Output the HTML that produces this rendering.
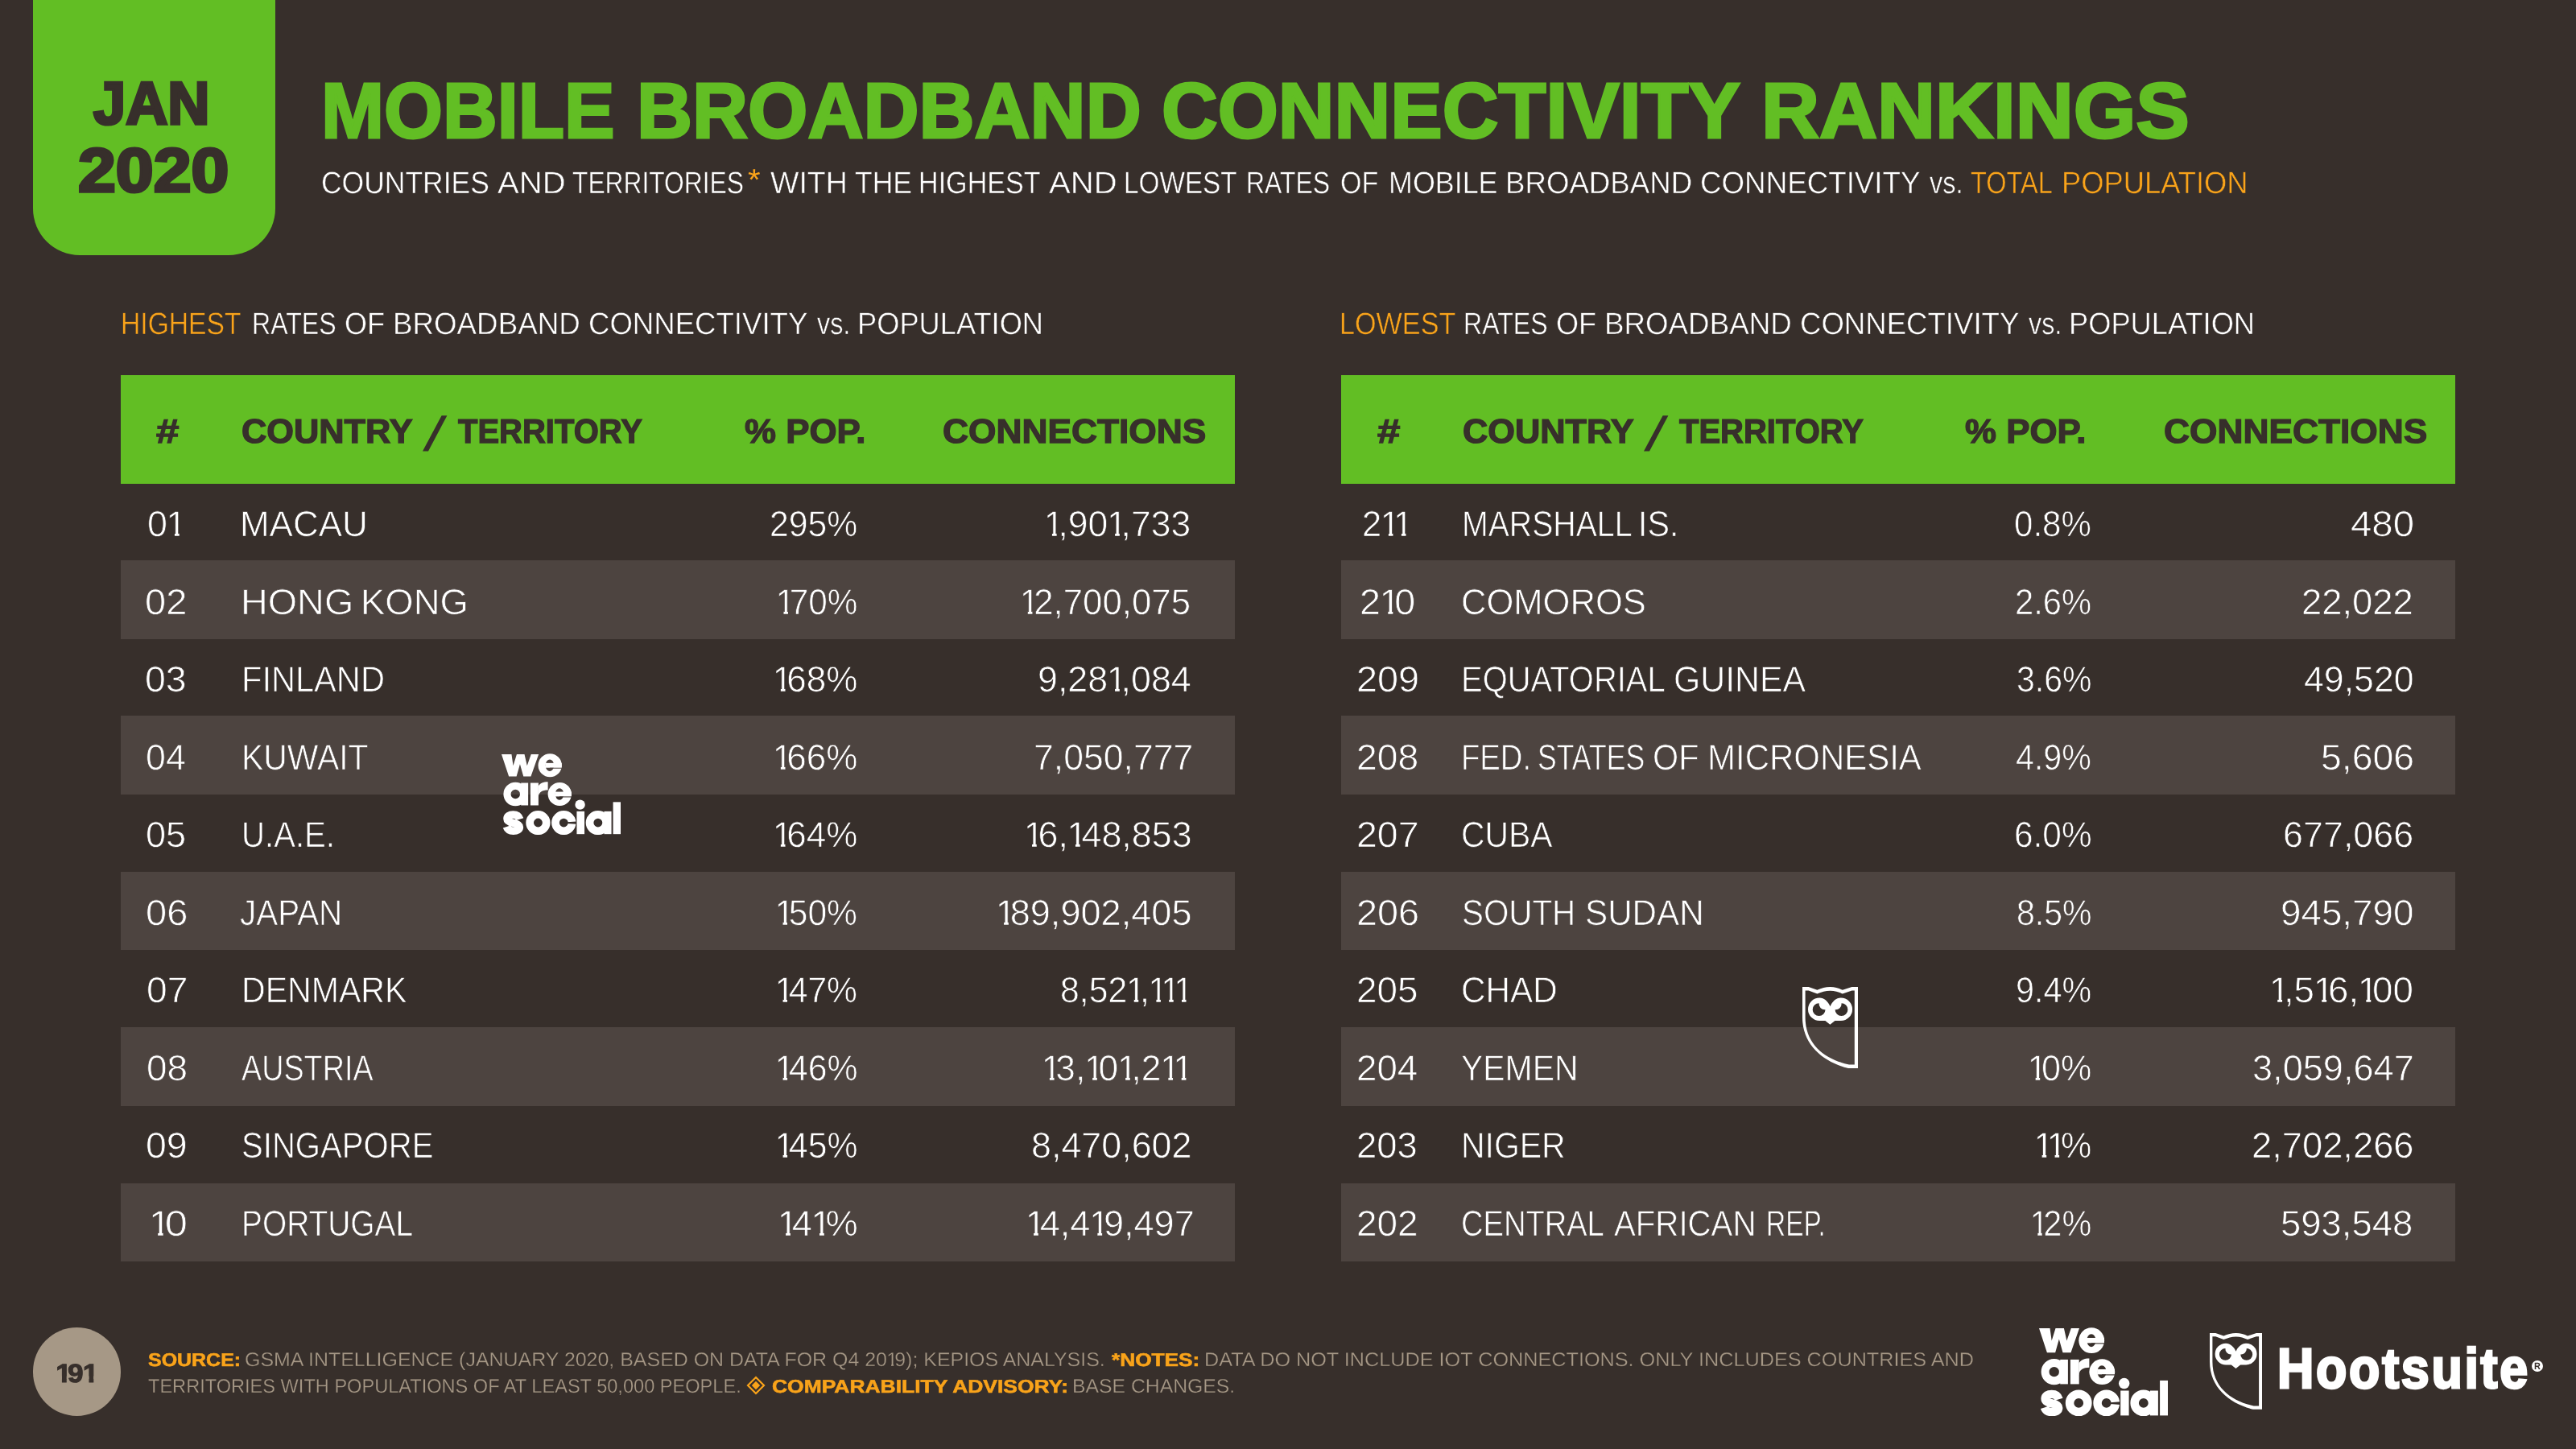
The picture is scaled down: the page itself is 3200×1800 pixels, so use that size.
<!DOCTYPE html>
<html><head><meta charset="utf-8"><title>Mobile Broadband Connectivity Rankings</title>
<style>
html,body{margin:0;padding:0}
body{width:3200px;height:1800px;background:#372F2B;position:relative;overflow:hidden;font-family:"Liberation Sans",sans-serif}
.t{position:absolute;white-space:pre;line-height:1em;transform-origin:0 0;display:block;text-rendering:geometricPrecision}.t i{font-style:normal;display:inline-block;margin:0 -0.157em 0 -0.03em;clip-path:polygon(0 0,100% 0,100% 60%,64.5% 60%,64.5% 100%,41.5% 100%,41.5% 60%,0 60%)}.t i.b{margin:0 -0.136em 0 -0.023em;clip-path:polygon(0 0,100% 0,100% 60%,69% 60%,69% 100%,39.5% 100%,39.5% 60%,0 60%)}
.txt{position:absolute;left:0;top:0;width:3200px;height:1800px;will-change:transform}
.badge{position:absolute;left:41px;top:-60px;width:301px;height:377px;background:#62BE24;border-radius:58px}
.hd{position:absolute;top:466px;width:1384px;height:135px;background:#62BE24}
.sh{position:absolute;width:1384px;height:97.5px;background:#4D4440}
.pg{position:absolute;left:40.7px;top:1649.2px;width:109.7px;height:109.7px;border-radius:50%;background:#A69886}
</style></head><body>
<div class="badge"></div>
<div class="hd" style="left:150px"></div>
<div class="sh" style="left:150px;top:696.0px"></div>
<div class="sh" style="left:150px;top:889.4px"></div>
<div class="sh" style="left:150px;top:1082.8px"></div>
<div class="sh" style="left:150px;top:1276.2px"></div>
<div class="sh" style="left:150px;top:1469.6px"></div>
<div class="hd" style="left:1666px"></div>
<div class="sh" style="left:1666px;top:696.0px"></div>
<div class="sh" style="left:1666px;top:889.4px"></div>
<div class="sh" style="left:1666px;top:1082.8px"></div>
<div class="sh" style="left:1666px;top:1276.2px"></div>
<div class="sh" style="left:1666px;top:1469.6px"></div>
<div class="pg"></div>
<svg style="position:absolute;left:520.0px;top:510px" width="40" height="56" viewBox="0 0 40 56"><path d="M28.6,6.2H35.4L12,50.4H5Z" fill="#372F2B"/></svg>
<svg style="position:absolute;left:2036.8px;top:510px" width="40" height="56" viewBox="0 0 40 56"><path d="M28.6,6.2H35.4L12,50.4H5Z" fill="#372F2B"/></svg>
<svg style="position:absolute;left:623.10px;top:935.70px" width="148.10" height="101.00" viewBox="0 0 160.4 110.3" preserveAspectRatio="none"><mask id="wm1" maskUnits="userSpaceOnUse" x="0" y="0" width="160.4" height="110.3"><path fill="#fff" d="M0,1.1H13.5L15.7,16.6L20.5,1.1H30.9L34.4,16.6L39.8,1.1H50L39.5,31.2H29.5L24.85,14.6L20.15,31.2H9.9Z"/><circle cx="65.2" cy="16.15" r="15.9" fill="#fff"/><ellipse cx="64.9" cy="16.15" rx="5.6" ry="8.0" fill="#000"/><rect x="59.0" y="12.95" width="21.9" height="6.4" fill="#fff"/><rect x="64.9" y="19.349999999999998" width="16.9" height="1.1" fill="#000"/><path fill="#fff" fill-rule="evenodd" d="M2.599999999999998,55.15a16.1,16.1 0 1 0 32.2,0a16.1,16.1 0 1 0 -32.2,0Z M12.5,55.15a6.2,6.2 0 1 0 12.4,0a6.2,6.2 0 1 0 -12.4,0Z"/><rect x="26.2" y="39.9" width="9.7" height="30.5" fill="#fff"/><rect x="38.9" y="39.9" width="10.8" height="30.5" fill="#fff"/><path fill="#fff" d="M49.5,44.5C52,40.5 56,38.6 62.4,38.6V49.7C55,49.7 49.7,52.5 49.7,59L49.5,59Z"/><circle cx="78.3" cy="55.15" r="15.9" fill="#fff"/><ellipse cx="78.0" cy="55.15" rx="5.6" ry="8.0" fill="#000"/><rect x="72.1" y="51.949999999999996" width="21.9" height="6.4" fill="#fff"/><rect x="78.0" y="58.35" width="16.9" height="1.1" fill="#000"/><circle cx="105.7" cy="69.5" r="6.7" fill="#fff"/><path fill="none" stroke="#fff" stroke-width="10.4" d="M24.6,89.2C23.2,84.6 19.6,82.9 15.6,82.9C10.6,82.9 7.6,85.4 7.6,88.4C7.6,92.2 11,93.3 16,94.3C21,95.3 24.2,96.6 24.2,100C24.2,103.2 21,105.1 16,105.1C11.6,105.1 8.2,103.4 6.8,99.4"/><path fill="#fff" fill-rule="evenodd" d="M32.800000000000004,93.95a16.4,16.4 0 1 0 32.8,0a16.4,16.4 0 1 0 -32.8,0Z M43.300000000000004,93.95a5.9,5.9 0 1 0 11.8,0a5.9,5.9 0 1 0 -11.8,0Z"/><path fill="#fff" fill-rule="evenodd" d="M67.30000000000001,93.95a16.4,16.4 0 1 0 32.8,0a16.4,16.4 0 1 0 -32.8,0Z M77.8,93.95a5.9,5.9 0 1 0 11.8,0a5.9,5.9 0 1 0 -11.8,0Z"/><path fill="#000" d="M88,93.2L101,92.2V95.9L88,94.9Z"/><rect x="101.2" y="78.5" width="10.4" height="30.9" fill="#fff"/><path fill="#fff" fill-rule="evenodd" d="M113.4,93.95a16.4,16.4 0 1 0 32.8,0a16.4,16.4 0 1 0 -32.8,0Z M123.9,93.95a5.9,5.9 0 1 0 11.8,0a5.9,5.9 0 1 0 -11.8,0Z"/><rect x="138" y="78.5" width="9.9" height="30.9" fill="#fff"/><rect x="150.1" y="65.9" width="10.3" height="43.5" fill="#fff"/></mask><rect x="0" y="0" width="160.4" height="110.3" fill="#fff" mask="url(#wm1)"/></svg>
<svg style="position:absolute;left:2532.70px;top:1648.97px" width="160.40" height="110.30" viewBox="0 0 160.4 110.3" preserveAspectRatio="none"><mask id="wm2" maskUnits="userSpaceOnUse" x="0" y="0" width="160.4" height="110.3"><path fill="#fff" d="M0,1.1H13.5L15.7,16.6L20.5,1.1H30.9L34.4,16.6L39.8,1.1H50L39.5,31.2H29.5L24.85,14.6L20.15,31.2H9.9Z"/><circle cx="65.2" cy="16.15" r="15.9" fill="#fff"/><ellipse cx="64.9" cy="16.15" rx="5.6" ry="8.0" fill="#000"/><rect x="59.0" y="12.95" width="21.9" height="6.4" fill="#fff"/><rect x="64.9" y="19.349999999999998" width="16.9" height="1.1" fill="#000"/><path fill="#fff" fill-rule="evenodd" d="M2.599999999999998,55.15a16.1,16.1 0 1 0 32.2,0a16.1,16.1 0 1 0 -32.2,0Z M12.5,55.15a6.2,6.2 0 1 0 12.4,0a6.2,6.2 0 1 0 -12.4,0Z"/><rect x="26.2" y="39.9" width="9.7" height="30.5" fill="#fff"/><rect x="38.9" y="39.9" width="10.8" height="30.5" fill="#fff"/><path fill="#fff" d="M49.5,44.5C52,40.5 56,38.6 62.4,38.6V49.7C55,49.7 49.7,52.5 49.7,59L49.5,59Z"/><circle cx="78.3" cy="55.15" r="15.9" fill="#fff"/><ellipse cx="78.0" cy="55.15" rx="5.6" ry="8.0" fill="#000"/><rect x="72.1" y="51.949999999999996" width="21.9" height="6.4" fill="#fff"/><rect x="78.0" y="58.35" width="16.9" height="1.1" fill="#000"/><circle cx="105.7" cy="69.5" r="6.7" fill="#fff"/><path fill="none" stroke="#fff" stroke-width="10.4" d="M24.6,89.2C23.2,84.6 19.6,82.9 15.6,82.9C10.6,82.9 7.6,85.4 7.6,88.4C7.6,92.2 11,93.3 16,94.3C21,95.3 24.2,96.6 24.2,100C24.2,103.2 21,105.1 16,105.1C11.6,105.1 8.2,103.4 6.8,99.4"/><path fill="#fff" fill-rule="evenodd" d="M32.800000000000004,93.95a16.4,16.4 0 1 0 32.8,0a16.4,16.4 0 1 0 -32.8,0Z M43.300000000000004,93.95a5.9,5.9 0 1 0 11.8,0a5.9,5.9 0 1 0 -11.8,0Z"/><path fill="#fff" fill-rule="evenodd" d="M67.30000000000001,93.95a16.4,16.4 0 1 0 32.8,0a16.4,16.4 0 1 0 -32.8,0Z M77.8,93.95a5.9,5.9 0 1 0 11.8,0a5.9,5.9 0 1 0 -11.8,0Z"/><path fill="#000" d="M88,93.2L101,92.2V95.9L88,94.9Z"/><rect x="101.2" y="78.5" width="10.4" height="30.9" fill="#fff"/><path fill="#fff" fill-rule="evenodd" d="M113.4,93.95a16.4,16.4 0 1 0 32.8,0a16.4,16.4 0 1 0 -32.8,0Z M123.9,93.95a5.9,5.9 0 1 0 11.8,0a5.9,5.9 0 1 0 -11.8,0Z"/><rect x="138" y="78.5" width="9.9" height="30.9" fill="#fff"/><rect x="150.1" y="65.9" width="10.3" height="43.5" fill="#fff"/></mask><rect x="0" y="0" width="160.4" height="110.3" fill="#fff" mask="url(#wm2)"/></svg>
<svg style="position:absolute;left:2238.90px;top:1225.80px" width="69.35" height="101.00" viewBox="0 0 69.35 101.4" preserveAspectRatio="none">
<path fill="#fff" fill-rule="evenodd" d="M0,0H7.7L18.4,3.85C24,1.4 28.5,0 34.6,0S45.2,1.4 49.9,3.85L61.5,0H69.35V101.4H57C27,94 0,73 0,38Z M3.6,4.6V38C3.6,72.5 29,90.5 58,96.9H64.8V4.6H61.5L49.9,8.6C45.2,6.2 40.5,4.7 34.6,4.7S24,6.2 18.4,8.6L7.7,4.6Z"/>
<path fill="#fff" d="M21.3,13.6A14.3,14.3 0 1 0 21.3,42.2H28.4L34.4,47L40.4,42.2H47.8A14.3,14.3 0 1 0 47.8,13.6C42,13.6 37,18.3 34.55,24.4C32,18.3 27,13.6 21.3,13.6Z"/>
<g fill="#372F2B"><path d="M20.6,20.4A7.9,7.9 0 1 0 28.5,28.3A7.2,7.2 0 0 1 20.6,20.4Z"/>
<path d="M48.5,20.4A7.9,7.9 0 1 1 40.6,28.3A7.2,7.2 0 0 0 48.5,20.4Z"/></g>
</svg>
<svg style="position:absolute;left:2744.80px;top:1656.40px" width="65.40" height="94.70" viewBox="0 0 69.35 101.4" preserveAspectRatio="none">
<path fill="#fff" fill-rule="evenodd" d="M0,0H7.7L18.4,3.85C24,1.4 28.5,0 34.6,0S45.2,1.4 49.9,3.85L61.5,0H69.35V101.4H57C27,94 0,73 0,38Z M3.6,4.6V38C3.6,72.5 29,90.5 58,96.9H64.8V4.6H61.5L49.9,8.6C45.2,6.2 40.5,4.7 34.6,4.7S24,6.2 18.4,8.6L7.7,4.6Z"/>
<path fill="#fff" d="M21.3,13.6A14.3,14.3 0 1 0 21.3,42.2H28.4L34.4,47L40.4,42.2H47.8A14.3,14.3 0 1 0 47.8,13.6C42,13.6 37,18.3 34.55,24.4C32,18.3 27,13.6 21.3,13.6Z"/>
<g fill="#372F2B"><path d="M20.6,20.4A7.9,7.9 0 1 0 28.5,28.3A7.2,7.2 0 0 1 20.6,20.4Z"/>
<path d="M48.5,20.4A7.9,7.9 0 1 1 40.6,28.3A7.2,7.2 0 0 0 48.5,20.4Z"/></g>
</svg>
<div style="position:absolute;left:3144.8px;top:1690.1px;width:14px;height:14px;border-radius:50%;background:#fff"></div>
<svg style="position:absolute;left:926.6px;top:1708.6px" width="24" height="24" viewBox="-12 -12 24 24">
<path d="M0,-10 L10,0 L0,10 L-10,0Z" fill="none" stroke="#F9A31A" stroke-width="2.2"/><path d="M0,-5.2L5.2,0L0,5.2L-5.2,0Z" fill="#F9A31A"/></svg>
<div class="txt">
<span class="t" style="left:116.22px;top:91px;font-size:74.71px;font-weight:700;color:#372F2B;transform:scaleX(0.9665);;-webkit-text-stroke:3.6px #372F2B">JAN</span>
<span class="t" style="left:97.10px;top:174px;font-size:76.89px;font-weight:700;color:#372F2B;transform:scaleX(1.0956);;-webkit-text-stroke:3.6px #372F2B">2020</span>
<span class="t" style="left:399.19px;top:89px;font-size:97.38px;font-weight:700;color:#62BE24;transform:scaleX(0.9630);;-webkit-text-stroke:3px #62BE24">MOBILE</span>
<span class="t" style="left:790.99px;top:89px;font-size:97.38px;font-weight:700;color:#62BE24;transform:scaleX(0.9818);;-webkit-text-stroke:3px #62BE24">BROADBAND</span>
<span class="t" style="left:1443.25px;top:89px;font-size:97.38px;font-weight:700;color:#62BE24;transform:scaleX(0.9916);;-webkit-text-stroke:3px #62BE24">CONNECTIVITY</span>
<span class="t" style="left:2188.08px;top:89px;font-size:97.38px;font-weight:700;color:#62BE24;transform:scaleX(1.0241);;-webkit-text-stroke:3px #62BE24">RANKINGS</span>
<span class="t" style="left:398.79px;top:209px;font-size:38.23px;font-weight:400;color:#FFFFFF;transform:scaleX(0.9277);;-webkit-text-stroke:0.5px #372F2B">COUNTRIES</span>
<span class="t" style="left:618.46px;top:209px;font-size:38.23px;font-weight:400;color:#FFFFFF;transform:scaleX(1.0479);;-webkit-text-stroke:0.5px #372F2B">AND</span>
<span class="t" style="left:710.67px;top:209px;font-size:38.23px;font-weight:400;color:#FFFFFF;transform:scaleX(0.8308);;-webkit-text-stroke:0.5px #372F2B">TERRITORIES</span>
<span class="t" style="left:957.33px;top:209px;font-size:38.23px;font-weight:400;color:#FFFFFF;transform:scaleX(0.9819);;-webkit-text-stroke:0.5px #372F2B">WITH</span>
<span class="t" style="left:1061.58px;top:209px;font-size:38.23px;font-weight:400;color:#FFFFFF;transform:scaleX(0.9275);;-webkit-text-stroke:0.5px #372F2B">THE</span>
<span class="t" style="left:1140.91px;top:209px;font-size:38.23px;font-weight:400;color:#FFFFFF;transform:scaleX(0.8926);;-webkit-text-stroke:0.5px #372F2B">HIGHEST</span>
<span class="t" style="left:1303.16px;top:209px;font-size:38.23px;font-weight:400;color:#FFFFFF;transform:scaleX(1.0479);;-webkit-text-stroke:0.5px #372F2B">AND</span>
<span class="t" style="left:1395.58px;top:209px;font-size:38.23px;font-weight:400;color:#FFFFFF;transform:scaleX(0.8717);;-webkit-text-stroke:0.5px #372F2B">LOWEST</span>
<span class="t" style="left:1547.91px;top:209px;font-size:38.23px;font-weight:400;color:#FFFFFF;transform:scaleX(0.8358);;-webkit-text-stroke:0.5px #372F2B">RATES</span>
<span class="t" style="left:1664.93px;top:209px;font-size:38.23px;font-weight:400;color:#FFFFFF;transform:scaleX(0.8919);;-webkit-text-stroke:0.5px #372F2B">OF</span>
<span class="t" style="left:1724.55px;top:209px;font-size:38.23px;font-weight:400;color:#FFFFFF;transform:scaleX(0.9384);;-webkit-text-stroke:0.5px #372F2B">MOBILE</span>
<span class="t" style="left:1870.38px;top:209px;font-size:38.23px;font-weight:400;color:#FFFFFF;transform:scaleX(0.9590);;-webkit-text-stroke:0.5px #372F2B">BROADBAND</span>
<span class="t" style="left:2112.43px;top:209px;font-size:38.23px;font-weight:400;color:#FFFFFF;transform:scaleX(0.9613);;-webkit-text-stroke:0.5px #372F2B">CONNECTIVITY</span>
<span class="t" style="left:2397.42px;top:209px;font-size:38.23px;font-weight:400;color:#FFFFFF;transform:scaleX(0.8488);;-webkit-text-stroke:0.5px #372F2B">vs.</span>
<span class="t" style="left:2448.35px;top:209px;font-size:38.23px;font-weight:400;color:#F9A31A;transform:scaleX(0.8518);;-webkit-text-stroke:0.5px #372F2B">TOTAL</span>
<span class="t" style="left:2561.31px;top:209px;font-size:38.23px;font-weight:400;color:#F9A31A;transform:scaleX(0.9509);;-webkit-text-stroke:0.5px #372F2B">POPULATION</span>
<span class="t" style="left:928.93px;top:205px;font-size:37.50px;font-weight:400;color:#F9A31A;transform:scaleX(1.0712);">*</span>
<span class="t" style="left:149.96px;top:384px;font-size:38.23px;font-weight:400;color:#F9A31A;transform:scaleX(0.8799);;-webkit-text-stroke:0.5px #372F2B">HIGHEST</span>
<span class="t" style="left:1664.31px;top:384px;font-size:38.23px;font-weight:400;color:#F9A31A;transform:scaleX(0.8941);;-webkit-text-stroke:0.5px #372F2B">LOWEST</span>
<span class="t" style="left:312.89px;top:384px;font-size:38.23px;font-weight:400;color:#FFFFFF;transform:scaleX(0.8400);;-webkit-text-stroke:0.5px #372F2B">RATES</span>
<span class="t" style="left:428.24px;top:384px;font-size:38.23px;font-weight:400;color:#FFFFFF;transform:scaleX(0.9425);;-webkit-text-stroke:0.5px #372F2B">OF</span>
<span class="t" style="left:487.68px;top:384px;font-size:38.23px;font-weight:400;color:#FFFFFF;transform:scaleX(0.9612);;-webkit-text-stroke:0.5px #372F2B">BROADBAND</span>
<span class="t" style="left:730.93px;top:384px;font-size:38.23px;font-weight:400;color:#FFFFFF;transform:scaleX(0.9571);;-webkit-text-stroke:0.5px #372F2B">CONNECTIVITY</span>
<span class="t" style="left:1014.92px;top:384px;font-size:38.23px;font-weight:400;color:#FFFFFF;transform:scaleX(0.8443);;-webkit-text-stroke:0.5px #372F2B">vs.</span>
<span class="t" style="left:1065.32px;top:384px;font-size:38.23px;font-weight:400;color:#FFFFFF;transform:scaleX(0.9488);;-webkit-text-stroke:0.5px #372F2B">POPULATION</span>
<span class="t" style="left:1817.89px;top:384px;font-size:38.23px;font-weight:400;color:#FFFFFF;transform:scaleX(0.8400);;-webkit-text-stroke:0.5px #372F2B">RATES</span>
<span class="t" style="left:1933.24px;top:384px;font-size:38.23px;font-weight:400;color:#FFFFFF;transform:scaleX(0.9425);;-webkit-text-stroke:0.5px #372F2B">OF</span>
<span class="t" style="left:1992.68px;top:384px;font-size:38.23px;font-weight:400;color:#FFFFFF;transform:scaleX(0.9612);;-webkit-text-stroke:0.5px #372F2B">BROADBAND</span>
<span class="t" style="left:2235.93px;top:384px;font-size:38.23px;font-weight:400;color:#FFFFFF;transform:scaleX(0.9571);;-webkit-text-stroke:0.5px #372F2B">CONNECTIVITY</span>
<span class="t" style="left:2519.92px;top:384px;font-size:38.23px;font-weight:400;color:#FFFFFF;transform:scaleX(0.8443);;-webkit-text-stroke:0.5px #372F2B">vs.</span>
<span class="t" style="left:2570.32px;top:384px;font-size:38.23px;font-weight:400;color:#FFFFFF;transform:scaleX(0.9488);;-webkit-text-stroke:0.5px #372F2B">POPULATION</span>
<span class="t" style="left:194.36px;top:515px;font-size:42.01px;font-weight:700;color:#372F2B;transform:scaleX(1.2155);;-webkit-text-stroke:1.3px #372F2B">#</span>
<span class="t" style="left:299.82px;top:515px;font-size:42.01px;font-weight:700;color:#372F2B;transform:scaleX(1.0318);;-webkit-text-stroke:1.3px #372F2B">COUNTRY</span>
<span class="t" style="left:569.43px;top:515px;font-size:42.01px;font-weight:700;color:#372F2B;transform:scaleX(0.9522);;-webkit-text-stroke:1.3px #372F2B">TERRITORY</span>
<span class="t" style="left:924.50px;top:515px;font-size:42.01px;font-weight:700;color:#372F2B;transform:scaleX(1.0443);;-webkit-text-stroke:1.3px #372F2B">% POP.</span>
<span class="t" style="left:1171.40px;top:515px;font-size:42.01px;font-weight:700;color:#372F2B;transform:scaleX(1.0547);;-webkit-text-stroke:1.3px #372F2B">CONNECTIONS</span>
<span class="t" style="left:1711.16px;top:515px;font-size:42.01px;font-weight:700;color:#372F2B;transform:scaleX(1.2155);;-webkit-text-stroke:1.3px #372F2B">#</span>
<span class="t" style="left:1816.62px;top:515px;font-size:42.01px;font-weight:700;color:#372F2B;transform:scaleX(1.0318);;-webkit-text-stroke:1.3px #372F2B">COUNTRY</span>
<span class="t" style="left:2086.23px;top:515px;font-size:42.01px;font-weight:700;color:#372F2B;transform:scaleX(0.9522);;-webkit-text-stroke:1.3px #372F2B">TERRITORY</span>
<span class="t" style="left:2441.30px;top:515px;font-size:42.01px;font-weight:700;color:#372F2B;transform:scaleX(1.0443);;-webkit-text-stroke:1.3px #372F2B">% POP.</span>
<span class="t" style="left:2688.20px;top:515px;font-size:42.01px;font-weight:700;color:#372F2B;transform:scaleX(1.0547);;-webkit-text-stroke:1.3px #372F2B">CONNECTIONS</span>
<span class="t" style="left:183.12px;top:630px;font-size:44.62px;font-weight:400;color:#FFFFFF;transform:scaleX(1.0050);;-webkit-text-stroke:0.7px #372F2B">0<i>1</i></span>
<span class="t" style="left:297.79px;top:630px;font-size:44.62px;font-weight:400;color:#FFFFFF;transform:scaleX(0.9851);;-webkit-text-stroke:0.7px #372F2B">MACAU</span>
<span class="t" style="left:956.24px;top:630px;font-size:44.62px;font-weight:400;color:#FFFFFF;transform:scaleX(0.9578);;-webkit-text-stroke:0.7px #372F2B">295%</span>
<span class="t" style="left:1298.21px;top:630px;font-size:44.62px;font-weight:400;color:#FFFFFF;transform:scaleX(0.9962);;-webkit-text-stroke:0.7px #372F2B"><i>1</i>,90<i>1</i>,733</span>
<span class="t" style="left:180.02px;top:727px;font-size:44.62px;font-weight:400;color:#FFFFFF;transform:scaleX(1.0539);;-webkit-text-stroke:0.7px #4D4440">02</span>
<span class="t" style="left:298.85px;top:727px;font-size:44.62px;font-weight:400;color:#FFFFFF;transform:scaleX(1.0479);;-webkit-text-stroke:0.7px #4D4440">HONG</span>
<span class="t" style="left:447.96px;top:727px;font-size:44.62px;font-weight:400;color:#FFFFFF;transform:scaleX(1.0192);;-webkit-text-stroke:0.7px #4D4440">KONG</span>
<span class="t" style="left:964.97px;top:727px;font-size:44.62px;font-weight:400;color:#FFFFFF;transform:scaleX(0.9490);;-webkit-text-stroke:0.7px #4D4440"><i>1</i>70%</span>
<span class="t" style="left:1268.45px;top:727px;font-size:44.62px;font-weight:400;color:#FFFFFF;transform:scaleX(0.9819);;-webkit-text-stroke:0.7px #4D4440"><i>1</i>2,700,075</span>
<span class="t" style="left:180.05px;top:823px;font-size:44.62px;font-weight:400;color:#FFFFFF;transform:scaleX(1.0416);;-webkit-text-stroke:0.7px #372F2B">03</span>
<span class="t" style="left:299.80px;top:823px;font-size:44.62px;font-weight:400;color:#FFFFFF;transform:scaleX(0.9322);;-webkit-text-stroke:0.7px #372F2B">FINLAND</span>
<span class="t" style="left:960.93px;top:823px;font-size:44.62px;font-weight:400;color:#FFFFFF;transform:scaleX(0.9877);;-webkit-text-stroke:0.7px #372F2B"><i>1</i>68%</span>
<span class="t" style="left:1289.46px;top:823px;font-size:44.62px;font-weight:400;color:#FFFFFF;transform:scaleX(1.0027);;-webkit-text-stroke:0.7px #372F2B">9,28<i>1</i>,084</span>
<span class="t" style="left:181.42px;top:920px;font-size:44.62px;font-weight:400;color:#FFFFFF;transform:scaleX(1.0031);;-webkit-text-stroke:0.7px #4D4440">04</span>
<span class="t" style="left:299.85px;top:920px;font-size:44.62px;font-weight:400;color:#FFFFFF;transform:scaleX(0.9169);;-webkit-text-stroke:0.7px #4D4440">KUWAIT</span>
<span class="t" style="left:960.93px;top:920px;font-size:44.62px;font-weight:400;color:#FFFFFF;transform:scaleX(0.9877);;-webkit-text-stroke:0.7px #4D4440"><i>1</i>66%</span>
<span class="t" style="left:1283.80px;top:920px;font-size:44.62px;font-weight:400;color:#FFFFFF;transform:scaleX(0.9988);;-webkit-text-stroke:0.7px #4D4440">7,050,777</span>
<span class="t" style="left:181.40px;top:1016px;font-size:44.62px;font-weight:400;color:#FFFFFF;transform:scaleX(1.0122);;-webkit-text-stroke:0.7px #372F2B">05</span>
<span class="t" style="left:299.99px;top:1016px;font-size:44.62px;font-weight:400;color:#FFFFFF;transform:scaleX(0.8996);;-webkit-text-stroke:0.7px #372F2B">U.A.E.</span>
<span class="t" style="left:960.93px;top:1016px;font-size:44.62px;font-weight:400;color:#FFFFFF;transform:scaleX(0.9877);;-webkit-text-stroke:0.7px #372F2B"><i>1</i>64%</span>
<span class="t" style="left:1272.58px;top:1016px;font-size:44.62px;font-weight:400;color:#FFFFFF;transform:scaleX(1.0046);;-webkit-text-stroke:0.7px #372F2B"><i>1</i>6,<i>1</i>48,853</span>
<span class="t" style="left:181.32px;top:1113px;font-size:44.62px;font-weight:400;color:#FFFFFF;transform:scaleX(1.0551);;-webkit-text-stroke:0.7px #4D4440">06</span>
<span class="t" style="left:297.85px;top:1113px;font-size:44.62px;font-weight:400;color:#FFFFFF;transform:scaleX(0.9064);;-webkit-text-stroke:0.7px #4D4440">JAPAN</span>
<span class="t" style="left:964.35px;top:1113px;font-size:44.62px;font-weight:400;color:#FFFFFF;transform:scaleX(0.9549);;-webkit-text-stroke:0.7px #4D4440"><i>1</i>50%</span>
<span class="t" style="left:1238.05px;top:1113px;font-size:44.62px;font-weight:400;color:#FFFFFF;transform:scaleX(1.0115);;-webkit-text-stroke:0.7px #4D4440"><i>1</i>89,902,405</span>
<span class="t" style="left:182.26px;top:1209px;font-size:44.62px;font-weight:400;color:#FFFFFF;transform:scaleX(1.0363);;-webkit-text-stroke:0.7px #372F2B">07</span>
<span class="t" style="left:299.84px;top:1209px;font-size:44.62px;font-weight:400;color:#FFFFFF;transform:scaleX(0.9207);;-webkit-text-stroke:0.7px #372F2B">DENMARK</span>
<span class="t" style="left:964.35px;top:1209px;font-size:44.62px;font-weight:400;color:#FFFFFF;transform:scaleX(0.9549);;-webkit-text-stroke:0.7px #372F2B"><i>1</i>47%</span>
<span class="t" style="left:1316.81px;top:1209px;font-size:44.62px;font-weight:400;color:#FFFFFF;transform:scaleX(0.9579);;-webkit-text-stroke:0.7px #372F2B">8,52<i>1</i>,<i>1</i><i>1</i><i>1</i></span>
<span class="t" style="left:181.67px;top:1306px;font-size:44.62px;font-weight:400;color:#FFFFFF;transform:scaleX(1.0303);;-webkit-text-stroke:0.7px #4D4440">08</span>
<span class="t" style="left:300.18px;top:1306px;font-size:44.62px;font-weight:400;color:#FFFFFF;transform:scaleX(0.8461);;-webkit-text-stroke:0.7px #4D4440">AUSTRIA</span>
<span class="t" style="left:963.83px;top:1306px;font-size:44.62px;font-weight:400;color:#FFFFFF;transform:scaleX(0.9599);;-webkit-text-stroke:0.7px #4D4440"><i>1</i>46%</span>
<span class="t" style="left:1294.92px;top:1306px;font-size:44.62px;font-weight:400;color:#FFFFFF;transform:scaleX(0.9918);;-webkit-text-stroke:0.7px #4D4440"><i>1</i>3,<i>1</i>0<i>1</i>,2<i>1</i><i>1</i></span>
<span class="t" style="left:181.35px;top:1402px;font-size:44.62px;font-weight:400;color:#FFFFFF;transform:scaleX(1.0422);;-webkit-text-stroke:0.7px #372F2B">09</span>
<span class="t" style="left:300.37px;top:1402px;font-size:44.62px;font-weight:400;color:#FFFFFF;transform:scaleX(0.8989);;-webkit-text-stroke:0.7px #372F2B">SINGAPORE</span>
<span class="t" style="left:963.83px;top:1402px;font-size:44.62px;font-weight:400;color:#FFFFFF;transform:scaleX(0.9599);;-webkit-text-stroke:0.7px #372F2B"><i>1</i>45%</span>
<span class="t" style="left:1281.12px;top:1402px;font-size:44.62px;font-weight:400;color:#FFFFFF;transform:scaleX(1.0053);;-webkit-text-stroke:0.7px #372F2B">8,470,602</span>
<span class="t" style="left:185.83px;top:1499px;font-size:44.62px;font-weight:400;color:#FFFFFF;transform:scaleX(1.1343);;-webkit-text-stroke:0.7px #4D4440"><i>1</i>0</span>
<span class="t" style="left:300.03px;top:1499px;font-size:44.62px;font-weight:400;color:#FFFFFF;transform:scaleX(0.8712);;-webkit-text-stroke:0.7px #4D4440">PORTUGAL</span>
<span class="t" style="left:966.94px;top:1499px;font-size:44.62px;font-weight:400;color:#FFFFFF;transform:scaleX(1.0145);;-webkit-text-stroke:0.7px #4D4440"><i>1</i>4<i>1</i>%</span>
<span class="t" style="left:1274.76px;top:1499px;font-size:44.62px;font-weight:400;color:#FFFFFF;transform:scaleX(1.0103);;-webkit-text-stroke:0.7px #4D4440"><i>1</i>4,4<i>1</i>9,497</span>
<span class="t" style="left:1692.10px;top:630px;font-size:44.62px;font-weight:400;color:#FFFFFF;transform:scaleX(0.9732);;-webkit-text-stroke:0.7px #372F2B">2<i>1</i><i>1</i></span>
<span class="t" style="left:1815.50px;top:630px;font-size:44.62px;font-weight:400;color:#FFFFFF;transform:scaleX(0.8793);;-webkit-text-stroke:0.7px #372F2B">MARSHALL</span>
<span class="t" style="left:2034.84px;top:630px;font-size:44.62px;font-weight:400;color:#FFFFFF;transform:scaleX(0.9235);;-webkit-text-stroke:0.7px #372F2B">IS.</span>
<span class="t" style="left:2502.43px;top:630px;font-size:44.62px;font-weight:400;color:#FFFFFF;transform:scaleX(0.9423);;-webkit-text-stroke:0.7px #372F2B">0.8%</span>
<span class="t" style="left:2919.52px;top:630px;font-size:44.62px;font-weight:400;color:#FFFFFF;transform:scaleX(1.0606);;-webkit-text-stroke:0.7px #372F2B">480</span>
<span class="t" style="left:1689.21px;top:727px;font-size:44.62px;font-weight:400;color:#FFFFFF;transform:scaleX(1.0461);;-webkit-text-stroke:0.7px #4D4440">2<i>1</i>0</span>
<span class="t" style="left:1814.85px;top:727px;font-size:44.62px;font-weight:400;color:#FFFFFF;transform:scaleX(0.9763);;-webkit-text-stroke:0.7px #4D4440">COMOROS</span>
<span class="t" style="left:2503.10px;top:727px;font-size:44.62px;font-weight:400;color:#FFFFFF;transform:scaleX(0.9356);;-webkit-text-stroke:0.7px #4D4440">2.6%</span>
<span class="t" style="left:2858.98px;top:727px;font-size:44.62px;font-weight:400;color:#FFFFFF;transform:scaleX(1.0178);;-webkit-text-stroke:0.7px #4D4440">22,022</span>
<span class="t" style="left:1684.50px;top:823px;font-size:44.62px;font-weight:400;color:#FFFFFF;transform:scaleX(1.0497);;-webkit-text-stroke:0.7px #372F2B">209</span>
<span class="t" style="left:1815.14px;top:823px;font-size:44.62px;font-weight:400;color:#FFFFFF;transform:scaleX(0.8950);;-webkit-text-stroke:0.7px #372F2B">EQUATORIAL</span>
<span class="t" style="left:2079.02px;top:823px;font-size:44.62px;font-weight:400;color:#FFFFFF;transform:scaleX(0.9596);;-webkit-text-stroke:0.7px #372F2B">GUINEA</span>
<span class="t" style="left:2504.63px;top:823px;font-size:44.62px;font-weight:400;color:#FFFFFF;transform:scaleX(0.9203);;-webkit-text-stroke:0.7px #372F2B">3.6%</span>
<span class="t" style="left:2861.61px;top:823px;font-size:44.62px;font-weight:400;color:#FFFFFF;transform:scaleX(1.0008);;-webkit-text-stroke:0.7px #372F2B">49,520</span>
<span class="t" style="left:1684.53px;top:920px;font-size:44.62px;font-weight:400;color:#FFFFFF;transform:scaleX(1.0366);;-webkit-text-stroke:0.7px #4D4440">208</span>
<span class="t" style="left:1815.29px;top:920px;font-size:44.62px;font-weight:400;color:#FFFFFF;transform:scaleX(0.8561);;-webkit-text-stroke:0.7px #4D4440">FED.</span>
<span class="t" style="left:1909.75px;top:920px;font-size:44.62px;font-weight:400;color:#FFFFFF;transform:scaleX(0.7976);;-webkit-text-stroke:0.7px #4D4440">STATES</span>
<span class="t" style="left:2053.26px;top:920px;font-size:44.62px;font-weight:400;color:#FFFFFF;transform:scaleX(0.9271);;-webkit-text-stroke:0.7px #4D4440">OF</span>
<span class="t" style="left:2120.56px;top:920px;font-size:44.62px;font-weight:400;color:#FFFFFF;transform:scaleX(0.9409);;-webkit-text-stroke:0.7px #4D4440">MICRONESIA</span>
<span class="t" style="left:2504.31px;top:920px;font-size:44.62px;font-weight:400;color:#FFFFFF;transform:scaleX(0.9235);;-webkit-text-stroke:0.7px #4D4440">4.9%</span>
<span class="t" style="left:2882.57px;top:920px;font-size:44.62px;font-weight:400;color:#FFFFFF;transform:scaleX(1.0398);;-webkit-text-stroke:0.7px #4D4440">5,606</span>
<span class="t" style="left:1685.12px;top:1016px;font-size:44.62px;font-weight:400;color:#FFFFFF;transform:scaleX(1.0420);;-webkit-text-stroke:0.7px #372F2B">207</span>
<span class="t" style="left:1815.22px;top:1016px;font-size:44.62px;font-weight:400;color:#FFFFFF;transform:scaleX(0.9158);;-webkit-text-stroke:0.7px #372F2B">CUBA</span>
<span class="t" style="left:2501.63px;top:1016px;font-size:44.62px;font-weight:400;color:#FFFFFF;transform:scaleX(0.9503);;-webkit-text-stroke:0.7px #372F2B">6.0%</span>
<span class="t" style="left:2835.98px;top:1016px;font-size:44.62px;font-weight:400;color:#FFFFFF;transform:scaleX(1.0062);;-webkit-text-stroke:0.7px #372F2B">677,066</span>
<span class="t" style="left:1684.50px;top:1113px;font-size:44.62px;font-weight:400;color:#FFFFFF;transform:scaleX(1.0496);;-webkit-text-stroke:0.7px #4D4440">206</span>
<span class="t" style="left:1816.05px;top:1113px;font-size:44.62px;font-weight:400;color:#FFFFFF;transform:scaleX(0.9044);;-webkit-text-stroke:0.7px #4D4440">SOUTH</span>
<span class="t" style="left:1968.74px;top:1113px;font-size:44.62px;font-weight:400;color:#FFFFFF;transform:scaleX(0.9458);;-webkit-text-stroke:0.7px #4D4440">SUDAN</span>
<span class="t" style="left:2504.59px;top:1113px;font-size:44.62px;font-weight:400;color:#FFFFFF;transform:scaleX(0.9207);;-webkit-text-stroke:0.7px #4D4440">8.5%</span>
<span class="t" style="left:2832.80px;top:1113px;font-size:44.62px;font-weight:400;color:#FFFFFF;transform:scaleX(1.0257);;-webkit-text-stroke:0.7px #4D4440">945,790</span>
<span class="t" style="left:1684.56px;top:1209px;font-size:44.62px;font-weight:400;color:#FFFFFF;transform:scaleX(1.0277);;-webkit-text-stroke:0.7px #372F2B">205</span>
<span class="t" style="left:1815.14px;top:1209px;font-size:44.62px;font-weight:400;color:#FFFFFF;transform:scaleX(0.9463);;-webkit-text-stroke:0.7px #372F2B">CHAD</span>
<span class="t" style="left:2504.05px;top:1209px;font-size:44.62px;font-weight:400;color:#FFFFFF;transform:scaleX(0.9261);;-webkit-text-stroke:0.7px #372F2B">9.4%</span>
<span class="t" style="left:2820.30px;top:1209px;font-size:44.62px;font-weight:400;color:#FFFFFF;transform:scaleX(1.0258);;-webkit-text-stroke:0.7px #372F2B"><i>1</i>,5<i>1</i>6,<i>1</i>00</span>
<span class="t" style="left:1685.16px;top:1306px;font-size:44.62px;font-weight:400;color:#FFFFFF;transform:scaleX(1.0246);;-webkit-text-stroke:0.7px #4D4440">204</span>
<span class="t" style="left:1815.33px;top:1306px;font-size:44.62px;font-weight:400;color:#FFFFFF;transform:scaleX(0.9168);;-webkit-text-stroke:0.7px #4D4440">YEMEN</span>
<span class="t" style="left:2520.21px;top:1306px;font-size:44.62px;font-weight:400;color:#FFFFFF;transform:scaleX(0.9666);;-webkit-text-stroke:0.7px #4D4440"><i>1</i>0%</span>
<span class="t" style="left:2797.66px;top:1306px;font-size:44.62px;font-weight:400;color:#FFFFFF;transform:scaleX(1.0118);;-webkit-text-stroke:0.7px #4D4440">3,059,647</span>
<span class="t" style="left:1684.58px;top:1402px;font-size:44.62px;font-weight:400;color:#FFFFFF;transform:scaleX(1.0193);;-webkit-text-stroke:0.7px #372F2B">203</span>
<span class="t" style="left:1815.05px;top:1402px;font-size:44.62px;font-weight:400;color:#FFFFFF;transform:scaleX(0.9180);;-webkit-text-stroke:0.7px #372F2B">NIGER</span>
<span class="t" style="left:2528.00px;top:1402px;font-size:44.62px;font-weight:400;color:#FFFFFF;transform:scaleX(0.9670);;-webkit-text-stroke:0.7px #372F2B"><i>1</i><i>1</i>%</span>
<span class="t" style="left:2796.89px;top:1402px;font-size:44.62px;font-weight:400;color:#FFFFFF;transform:scaleX(1.0155);;-webkit-text-stroke:0.7px #372F2B">2,702,266</span>
<span class="t" style="left:1684.55px;top:1499px;font-size:44.62px;font-weight:400;color:#FFFFFF;transform:scaleX(1.0290);;-webkit-text-stroke:0.7px #4D4440">202</span>
<span class="t" style="left:1815.39px;top:1499px;font-size:44.62px;font-weight:400;color:#FFFFFF;transform:scaleX(0.8537);;-webkit-text-stroke:0.7px #4D4440">CENTRAL</span>
<span class="t" style="left:2004.83px;top:1499px;font-size:44.62px;font-weight:400;color:#FFFFFF;transform:scaleX(0.9011);;-webkit-text-stroke:0.7px #4D4440">AFRICAN</span>
<span class="t" style="left:2194.30px;top:1499px;font-size:44.62px;font-weight:400;color:#FFFFFF;transform:scaleX(0.7500);;-webkit-text-stroke:0.7px #4D4440">REP.</span>
<span class="t" style="left:2523.13px;top:1499px;font-size:44.62px;font-weight:400;color:#FFFFFF;transform:scaleX(0.9297);;-webkit-text-stroke:0.7px #4D4440"><i>1</i>2%</span>
<span class="t" style="left:2833.41px;top:1499px;font-size:44.62px;font-weight:400;color:#FFFFFF;transform:scaleX(1.0186);;-webkit-text-stroke:0.7px #4D4440">593,548</span>
<span class="t" style="left:183.95px;top:1678px;font-size:22.97px;font-weight:700;color:#F9A31A;transform:scaleX(1.0866);;-webkit-text-stroke:0.6px #F9A31A">SOURCE:</span>
<span class="t" style="left:304.31px;top:1678px;font-size:24.27px;font-weight:400;color:#A69886;transform:scaleX(1.0279);;-webkit-text-stroke:0.3px #372F2B">GSMA INTELLIGENCE (JANUARY 2020, BASED ON DATA FOR Q4 20<i>1</i>9); KEPIOS ANALYSIS.</span>
<span class="t" style="left:1381.30px;top:1678px;font-size:22.97px;font-weight:700;color:#F9A31A;transform:scaleX(1.1424);;-webkit-text-stroke:0.6px #F9A31A">*NOTES:</span>
<span class="t" style="left:1495.74px;top:1678px;font-size:24.27px;font-weight:400;color:#A69886;transform:scaleX(1.0397);;-webkit-text-stroke:0.3px #372F2B">DATA DO NOT INCLUDE IOT CONNECTIONS. ONLY INCLUDES COUNTRIES AND</span>
<span class="t" style="left:183.88px;top:1711px;font-size:24.27px;font-weight:400;color:#A69886;transform:scaleX(0.9715);;-webkit-text-stroke:0.3px #372F2B">TERRITORIES WITH POPULATIONS OF AT LEAST 50,000 PEOPLE.</span>
<span class="t" style="left:958.97px;top:1711px;font-size:22.97px;font-weight:700;color:#F9A31A;transform:scaleX(1.1506);;-webkit-text-stroke:0.6px #F9A31A">COMPARABILITY ADVISORY:</span>
<span class="t" style="left:1331.58px;top:1711px;font-size:24.27px;font-weight:400;color:#A69886;transform:scaleX(1.0201);;-webkit-text-stroke:0.3px #372F2B">BASE CHANGES.</span>
<span class="t" style="left:69.77px;top:1690px;font-size:32.41px;font-weight:700;color:#372F2B;transform:scaleX(1.0854);;-webkit-text-stroke:1px #372F2B"><i class="b">1</i>9<i class="b">1</i></span>
<span class="t" style="left:2828.97px;top:1665px;font-size:70.06px;font-weight:700;color:#FFFFFF;transform:scaleX(0.8967);-webkit-text-stroke:3px #fff;letter-spacing:3px">Hootsuite</span>
<span class="t" style="left:3148.12px;top:1692px;font-size:11.92px;font-weight:700;color:#372F2B;transform:scaleX(0.9194);">R</span>
</div>
</body></html>
